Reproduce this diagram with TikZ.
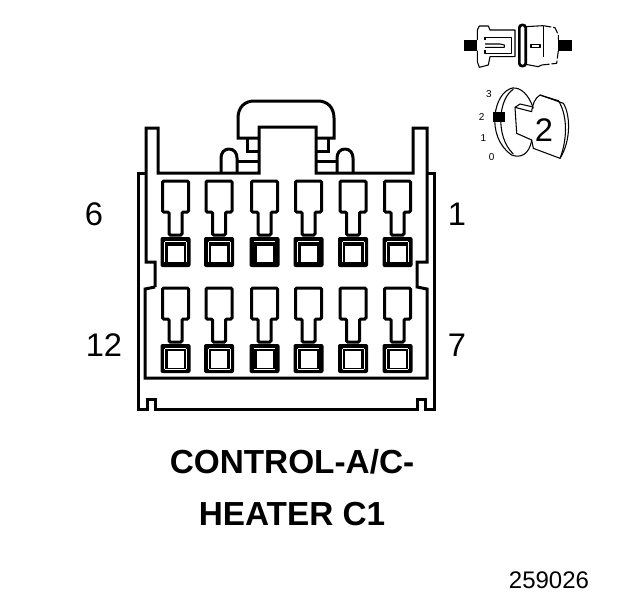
\documentclass[tikz,border=0pt]{standalone}
\usepackage{fontspec}
\setmainfont{Liberation Sans}
\tikzset{
  wire/.style={line width=2.25pt,line join=miter},
  thin wire/.style={line width=0.8pt,line join=round},
  gap/.style={white,line width=0.6pt},
  big/.style={font=\fontsize{24.5}{26}\selectfont,inner sep=0pt},
  title/.style={font=\fontsize{25}{27}\selectfont\bfseries,inner sep=0pt},
  tiny/.style={font=\fontsize{7.5}{8}\selectfont,inner sep=0pt},
}
% #1 centre x, #2 top, #3 body bottom, #4 stem bottom, #5 square top, #6 square bottom, #7 window top, #8 window bottom
\newcommand{\terminal}[8]{%
  \draw[wire,rounded corners=1pt] (#1-13,#2) -- (#1+13,#2) -- (#1+13,#3) -- (#1+6.5,#3) -- (#1+6.5,#4)
     -- (#1-6.5,#4) -- (#1-6.5,#3) -- (#1-13,#3) -- cycle;
  \fill[rounded corners=1.5pt] (#1-15,#5) rectangle (#1+15,#6);
  \fill[white] (#1-8,#7) rectangle (#1+8,#8);
  \draw[gap] (#1-10.5,#5+4) -- (#1+10.5,#5+4);
}
\begin{document}
\begin{tikzpicture}[x=0.75pt,y=-0.75pt]
\useasboundingbox (0,0) rectangle (624,600);
% outer frame
\draw[wire] (146,173) -- (138,173) -- (138,409) -- (147,409) -- (147,399) -- (155,399) -- (155,409)
  -- (417,409) -- (417,399) -- (425,399) -- (425,409) -- (434,409) -- (434,173) -- (427,173);
% inner shell
\draw[wire] (155,287) -- (155,262) -- (146,262) -- (146,128) -- (158,128) -- (158,173) -- (259,173)
  -- (259,127) -- (316,127) -- (316,173) -- (413,173) -- (413,128) -- (427,128) -- (427,262)
  -- (417,262) -- (417,287) -- (427,289) -- (427,378) -- (145,378) -- (145,289) -- (155,287);
% handle
\draw[wire] (259,138) -- (238,138) -- (238,118) .. controls (238,107) and (245,101) .. (254,101)
   -- (318,101) .. controls (327,101) and (334,107) .. (334,118) -- (334,138) -- (316,138);
\draw[wire] (247,138) -- (247,151) -- (259,151);
\draw[wire] (328,138) -- (328,151) -- (316,151);
\draw[wire] (237,161) -- (259,161) (316,161) -- (337,161);
\draw[wire] (229,149) .. controls (224,149) and (221,153) .. (221,158) -- (221,173)
   (229,149) .. controls (234,149) and (237,153) .. (237,158) -- (237,173);
\draw[wire] (345,149) .. controls (340,149) and (337,153) .. (337,158) -- (337,173)
   (345,149) .. controls (350,149) and (353,153) .. (353,158) -- (353,173);
% terminals
\foreach \cx in {175.5,219,264.5,308.5,353,397.5}{
  \terminal{\cx}{181}{212}{235}{237}{267}{246}{262}
  \terminal{\cx}{288}{319}{342}{344}{373}{351}{368}
  \draw[gap] (\cx-10.5,369.5) -- (\cx+10.5,369.5);
}
% slits beside the windows
\foreach \cx in {175.5,219,308.5,353,397.5}{
  \draw[gap] (\cx-11,242) -- (\cx-11,262);
  \draw[gap] (\cx-11,349) -- (\cx-11,369);
}
\foreach \cx in {175.5,219,353,397.5}{
  \draw[gap] (\cx+11,242) -- (\cx+11,262);
  \draw[gap] (\cx+11,349) -- (\cx+11,369);
}
% labels
\node[big] (n6) at (94,214) {6};
\node[big] (n1) at (457,214) {1};
\node[big] (n12) at (104,345) {12};
\node[big] (n7) at (457,345) {7};
\node[title] (t1) at (292,462) {CONTROL-A/C-};
\node[title] (t2) at (292,514) {HEATER C1};
\node[font=\fontsize{18}{20}\selectfont,inner sep=0pt] (code) at (549,580) {259026};
% connector-side icon
\begin{scope}[shift={(460,15)},x=0.25pt,y=-0.25pt]
  \fill (12,75) rectangle (52,107);
  \fill (295,75) rectangle (335,107);
  \draw[thin wire] (52,75) -- (52,45) -- (58,33) -- (85,33) -- (90,45) -- (165,45) -- (165,125) -- (90,125) -- (85,150) -- (58,157) -- (52,140) -- (52,107);
  \draw[thin wire] (75,75) -- (75,68) -- (155,68) -- (155,115) -- (75,115) -- (75,105);
  \draw[thin wire] (75,87) -- (120,87) -- (133,90) -- (133,97) -- (75,97);
  \draw[line width=2pt,rounded corners=2pt] (178,30) rectangle (197,153);
  \draw[thin wire] (197,35) -- (250,32);
  \draw[thin wire,dash pattern=on 6pt off 1.5pt] (250,32) -- (285,38) -- (295,60) -- (295,75);
  \draw[thin wire,dash pattern=on 6pt off 1.5pt] (295,107) -- (290,145) -- (245,150);
  \draw[thin wire] (245,150) -- (235,155) -- (197,148);
  \draw[thin wire] (250,32) -- (250,125);
  \draw[thin wire] (213,88) rectangle (240,97);
\end{scope}
% cavity-position icon
\begin{scope}[shift={(470,80)},x=0.25pt,y=-0.25pt]
  \draw[thin wire] (190,85) .. controls (175,40) and (150,22) .. (128,24)
     .. controls (70,35) and (45,170) .. (125,225) .. controls (150,235) and (178,225) .. (185,180);
  \draw[thin wire] (130,28) .. controls (85,55) and (75,170) .. (130,222);
  \fill (70,97) rectangle (105,125);
  \draw[thin wire,line join=round] (135,82) -- (185,95) .. controls (188,70) and (195,55) .. (210,45)
     -- (280,70) .. controls (300,100) and (305,180) .. (270,235) -- (190,205) -- (185,180) -- (140,160) -- cycle;
  \draw[thin wire] (210,45) -- (265,62) .. controls (290,100) and (295,170) .. (270,235);
  \draw[thin wire] (135,82) -- (150,72) -- (185,80);
  \node[big] (pos) at (222,150) {2};
  \node[tiny] (p3) at (57,42) {3};
  \node[tiny] (p2) at (35,110) {2};
  \node[tiny] (p1) at (40,175) {1};
  \node[tiny] (p0) at (65,231) {0};
\end{scope}
\end{tikzpicture}
\end{document}
